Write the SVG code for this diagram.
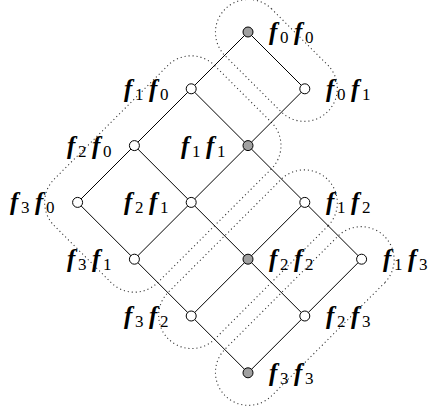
<svg xmlns="http://www.w3.org/2000/svg" width="430" height="414" viewBox="0 0 430 414">
<style>
.e{stroke:#000;stroke-width:1;fill:none}
.d{stroke:#333;stroke-width:1.1;fill:none;stroke-dasharray:1.1 2.9}
.w{fill:#fff;stroke:#000;stroke-width:1}
.g{fill:#a0a0a0;stroke:#000;stroke-width:1}
.m{font-family:"Liberation Serif",serif;font-style:italic;font-weight:bold;font-size:25px}
.s{font-family:"Liberation Serif",serif;font-size:17px}
text{fill:#000}
</style>
<g id="groups">
<path class="d" d="M271.33,8.67 L328.13,65.47 A33,33 0 0 1 281.47,112.13 L224.67,55.33 A33,33 0 0 1 271.33,8.67 Z"/>
<path class="d" d="M214.53,65.47 L271.33,122.27 A33,33 0 0 1 271.33,168.93 L157.73,282.53 A33,33 0 0 1 111.07,282.53 L54.27,225.73 A33,33 0 0 1 54.27,179.07 L167.87,65.47 A33,33 0 0 1 214.53,65.47 Z"/>
<path class="d" d="M328.13,225.73 L214.53,339.33 A33,33 0 0 1 167.87,292.67 L281.47,179.07 A33,33 0 0 1 328.13,225.73 Z"/>
<path class="d" d="M384.93,282.53 L271.33,396.13 A33,33 0 0 1 224.67,349.47 L338.27,235.87 A33,33 0 0 1 384.93,282.53 Z"/>
</g>
<g id="edges">
<line class="e" x1="248" y1="32" x2="191.2" y2="88.8"/>
<line class="e" x1="248" y1="32" x2="304.8" y2="88.8"/>
<line class="e" x1="191.2" y1="88.8" x2="134.4" y2="145.6"/>
<line class="e" x1="191.2" y1="88.8" x2="248" y2="145.6"/>
<line class="e" x1="304.8" y1="88.8" x2="248" y2="145.6"/>
<line class="e" x1="134.4" y1="145.6" x2="77.6" y2="202.4"/>
<line class="e" x1="134.4" y1="145.6" x2="191.2" y2="202.4"/>
<line class="e" x1="248" y1="145.6" x2="191.2" y2="202.4"/>
<line class="e" x1="248" y1="145.6" x2="304.8" y2="202.4"/>
<line class="e" x1="77.6" y1="202.4" x2="134.4" y2="259.2"/>
<line class="e" x1="191.2" y1="202.4" x2="134.4" y2="259.2"/>
<line class="e" x1="191.2" y1="202.4" x2="248" y2="259.2"/>
<line class="e" x1="304.8" y1="202.4" x2="248" y2="259.2"/>
<line class="e" x1="304.8" y1="202.4" x2="361.6" y2="259.2"/>
<line class="e" x1="134.4" y1="259.2" x2="191.2" y2="316"/>
<line class="e" x1="248" y1="259.2" x2="191.2" y2="316"/>
<line class="e" x1="248" y1="259.2" x2="304.8" y2="316"/>
<line class="e" x1="361.6" y1="259.2" x2="304.8" y2="316"/>
<line class="e" x1="191.2" y1="316" x2="248" y2="372.8"/>
<line class="e" x1="304.8" y1="316" x2="248" y2="372.8"/>
</g>
<g id="n00"><circle class="g" cx="248" cy="32" r="5"/><text y="40"><tspan class="m" x="269">f</tspan><tspan class="s" x="280" dy="3">0</tspan><tspan class="m" x="294" dy="-3">f</tspan><tspan class="s" x="305" dy="3">0</tspan></text></g>
<g id="n10"><circle class="w" cx="191.2" cy="88.8" r="5"/><text y="96.8"><tspan class="m" x="124">f</tspan><tspan class="s" x="135" dy="3">1</tspan><tspan class="m" x="149" dy="-3">f</tspan><tspan class="s" x="160" dy="3">0</tspan></text></g>
<g id="n01"><circle class="w" cx="304.8" cy="88.8" r="5"/><text y="96.8"><tspan class="m" x="326">f</tspan><tspan class="s" x="337" dy="3">0</tspan><tspan class="m" x="351" dy="-3">f</tspan><tspan class="s" x="362" dy="3">1</tspan></text></g>
<g id="n20"><circle class="w" cx="134.4" cy="145.6" r="5"/><text y="153.6"><tspan class="m" x="67">f</tspan><tspan class="s" x="78" dy="3">2</tspan><tspan class="m" x="92" dy="-3">f</tspan><tspan class="s" x="103" dy="3">0</tspan></text></g>
<g id="n11"><circle class="g" cx="248" cy="145.6" r="5"/><text y="153.6"><tspan class="m" x="181">f</tspan><tspan class="s" x="192" dy="3">1</tspan><tspan class="m" x="206" dy="-3">f</tspan><tspan class="s" x="217" dy="3">1</tspan></text></g>
<g id="n30"><circle class="w" cx="77.6" cy="202.4" r="5"/><text y="210.4"><tspan class="m" x="10">f</tspan><tspan class="s" x="21" dy="3">3</tspan><tspan class="m" x="35" dy="-3">f</tspan><tspan class="s" x="46" dy="3">0</tspan></text></g>
<g id="n21"><circle class="w" cx="191.2" cy="202.4" r="5"/><text y="210.4"><tspan class="m" x="124">f</tspan><tspan class="s" x="135" dy="3">2</tspan><tspan class="m" x="149" dy="-3">f</tspan><tspan class="s" x="160" dy="3">1</tspan></text></g>
<g id="n12"><circle class="w" cx="304.8" cy="202.4" r="5"/><text y="210.4"><tspan class="m" x="326">f</tspan><tspan class="s" x="337" dy="3">1</tspan><tspan class="m" x="351" dy="-3">f</tspan><tspan class="s" x="362" dy="3">2</tspan></text></g>
<g id="n31"><circle class="w" cx="134.4" cy="259.2" r="5"/><text y="267.2"><tspan class="m" x="67">f</tspan><tspan class="s" x="78" dy="3">3</tspan><tspan class="m" x="92" dy="-3">f</tspan><tspan class="s" x="103" dy="3">1</tspan></text></g>
<g id="n22"><circle class="g" cx="248" cy="259.2" r="5"/><text y="267.2"><tspan class="m" x="269">f</tspan><tspan class="s" x="280" dy="3">2</tspan><tspan class="m" x="294" dy="-3">f</tspan><tspan class="s" x="305" dy="3">2</tspan></text></g>
<g id="n13"><circle class="w" cx="361.6" cy="259.2" r="5"/><text y="267.2"><tspan class="m" x="383">f</tspan><tspan class="s" x="394" dy="3">1</tspan><tspan class="m" x="408" dy="-3">f</tspan><tspan class="s" x="419" dy="3">3</tspan></text></g>
<g id="n32"><circle class="w" cx="191.2" cy="316" r="5"/><text y="324"><tspan class="m" x="124">f</tspan><tspan class="s" x="135" dy="3">3</tspan><tspan class="m" x="149" dy="-3">f</tspan><tspan class="s" x="160" dy="3">2</tspan></text></g>
<g id="n23"><circle class="w" cx="304.8" cy="316" r="5"/><text y="324"><tspan class="m" x="326">f</tspan><tspan class="s" x="337" dy="3">2</tspan><tspan class="m" x="351" dy="-3">f</tspan><tspan class="s" x="362" dy="3">3</tspan></text></g>
<g id="n33"><circle class="g" cx="248" cy="372.8" r="5"/><text y="380.8"><tspan class="m" x="269">f</tspan><tspan class="s" x="280" dy="3">3</tspan><tspan class="m" x="294" dy="-3">f</tspan><tspan class="s" x="305" dy="3">3</tspan></text></g>
</svg>
